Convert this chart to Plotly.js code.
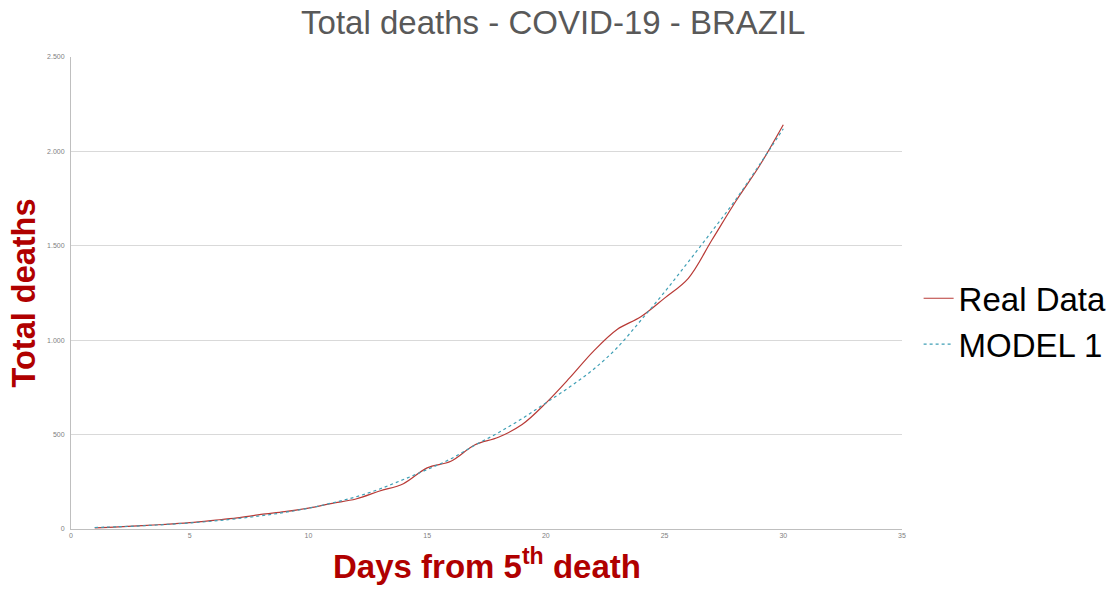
<!DOCTYPE html>
<html><head><meta charset="utf-8">
<script src="https://cdn.plot.ly/plotly-3.0.1.min.js"></script>
<style>html,body{margin:0;padding:0;background:#fff}#chart{width:1111px;height:590px}</style>
</head><body><div id="chart"></div>
<script>
var days = [1,2,3,4,5,6,7,8,9,10,11,12,13,14,15,16,17,18,19,20,21,22,23,24,25,26,27,28,29,30];
var realData = [6,11,18,25,34,46,59,77,92,111,136,159,201,240,324,359,445,486,553,667,800,941,1057,1124,1223,1328,1532,1736,1924,2141];
var model1 = [8,12,17,24,32,42,55,70,88,110,138,170,212,262,315,372,443,510,585,668,752,845,960,1105,1255,1415,1578,1745,1930,2120];
var yTicks = [0,500,1000,1500,2000,2500];
var xTicks = [0,5,10,15,20,25,30,35];
var FONT = 'Liberation Sans, Arial, sans-serif';

var traces = [
  {x: days, y: realData, name: 'Real Data', mode: 'lines',
   line: {color: '#b83a36', width: 1.2, shape: 'spline'}},
  {x: days, y: model1, name: 'MODEL 1', mode: 'lines',
   line: {color: '#3f9fb5', width: 1.2, dash: 'dot', shape: 'spline'}}
];
var layout = {
  width: 1111, height: 590,
  margin: {l: 71, r: 209, t: 57, b: 61, autoexpand: false},
  paper_bgcolor: '#fff', plot_bgcolor: '#fff',
  separators: ',.',
  font: {family: FONT},
  title: {text: 'Total deaths - COVID-19 - BRAZIL', x: 0.498, xanchor: 'center', y: 0.962, yanchor: 'middle',
          font: {size: 33, color: '#595959', family: FONT}},
  xaxis: {range: [0, 35], tickvals: xTicks, ticktext: xTicks.map(String),
          showgrid: false, zeroline: false, showline: true, linecolor: '#bfbfbf', linewidth: 1,
          ticks: '', tickfont: {size: 7, color: '#7f7f7f'}, automargin: false},
  yaxis: {range: [0, 2500], tickvals: yTicks, tickformat: ',d',
          showgrid: true, gridcolor: '#d9d9d9', gridwidth: 1, zeroline: false,
          showline: true, linecolor: '#bfbfbf', linewidth: 1, ticks: '',
          ticklabelstandoff: 4, tickfont: {size: 7, color: '#7f7f7f'}, automargin: false},
  annotations: [
    {text: '<b>Days from 5<sup>th</sup> death</b>', xref: 'paper', yref: 'paper',
     x: 0.5, xanchor: 'center', y: -0.074, yanchor: 'middle', showarrow: false,
     font: {size: 33, color: '#b00000', family: FONT}},
    {text: '<b>Total deaths</b>', xref: 'paper', yref: 'paper', textangle: -90,
     x: -0.056, xanchor: 'center', y: 0.5, yanchor: 'middle', showarrow: false,
     font: {size: 32.5, color: '#b00000', family: FONT}}
  ],
  showlegend: true,
  legend: {x: 1.02, xanchor: 'left', y: 0.44, yanchor: 'middle', bgcolor: 'rgba(0,0,0,0)',
           font: {size: 33, color: '#000', family: FONT},
           tracegroupgap: 0, itemwidth: 30}
};
Plotly.newPlot('chart', traces, layout, {staticPlot: true, displayModeBar: false});
</script></body></html>
